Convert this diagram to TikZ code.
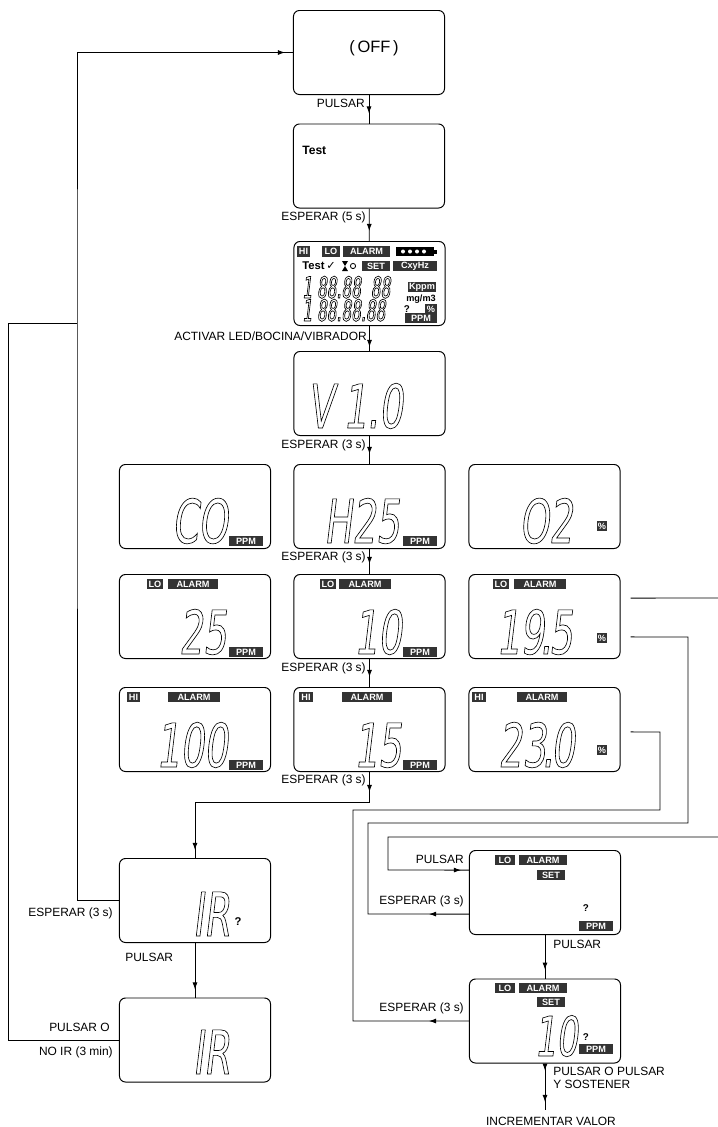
\documentclass[tikz,border=0pt]{standalone}
\usepackage{fontspec}
\setmainfont{Liberation Sans}
\newfontfamily\segfont[FakeSlant=0.12,FakeStretch=0.62]{DejaVu Sans}
\newfontfamily\segsmall[FakeSlant=0.12,FakeStretch=0.52]{DejaVu Sans}
\newfontfamily\symfont{DejaVu Sans}
% outlined digits, as on the LCD
\newcommand{\lcdseg}[1]{\special{pdf:literal 1 Tr 0.45 w}#1\special{pdf:literal 0 Tr}}
\usetikzlibrary{arrows.meta,decorations.markings,calc}

\begin{document}
\begin{tikzpicture}[x=0.025cm,y=-0.025cm,
    lcd/.style={draw,line width=0.7pt,rounded corners=0.15cm,minimum width=3.775cm,minimum height=2.1cm},
    lbl/.style={inner sep=0pt,font=\fontsize{8.5}{9.2}\selectfont},
    big/.style={inner sep=0pt,font=\segfont\fontsize{43}{43}\selectfont},
    tag/.style={fill=black!80,text=white,inner sep=0pt,minimum height=0.27cm,font=\bfseries\fontsize{6.5}{7}\selectfont},
    link/.style={line width=0.6pt},
    arr/.style={postaction={decorate,decoration={markings,mark=at position #1 with {\arrow{Latex[length=5pt,width=3.5pt]}}}}}]
    \useasboundingbox (0,0) rectangle (718,1127);

    % displays of the main column
    \node[lcd] (off) at (369,52.5) {};
    \node[font=\fontsize{11.7}{12}\selectfont] (offtxt) at (374,48) {(\,OFF\,)};
    \node[lcd] (test) at (369,166) {};
    \node[anchor=west,inner sep=0pt,font=\bfseries\fontsize{8.6}{9}\selectfont] (testtxt) at (302,150) {Test};

    % every segment lit
    \node[lcd] (all) at (369.5,283.5) {};
    \node[tag,minimum width=0.33cm] (allhi) at (303.5,251.5) {HI};
    \node[tag,minimum width=0.45cm] (alllo) at (331,251.5) {LO};
    \node[tag,minimum width=1.17cm] (allalarm) at (366.5,251.5) {ALARM};
    \fill (396,247) rectangle (434,256);
    \fill (434,249.5) rectangle (437,253.5);
    \foreach \x in {403,410,417,424} \fill[white] (\x,251.5) circle (0.05cm);
    \node[anchor=west,inner sep=0pt,font=\bfseries\fontsize{8}{9}\selectfont] (alltest) at (302,266) {Test\,{\symfont\mdseries ✓}};
    \fill (342,261) -- (348,261) -- (345,266) -- cycle;
    \fill (345,266) -- (348,271) -- (342,271) -- cycle;
    \draw[line width=0.6pt] (353,266) circle (0.065cm);
    \node[tag,minimum width=0.7cm] (allset) at (376,266) {SET};
    \node[tag,minimum width=1.1cm] (allhz) at (415,266) {CxyHz};
    \node[tag,minimum width=0.72cm] (allkppm) at (422,287) {Kppm};
    \node[inner sep=0pt,font=\bfseries\fontsize{6.5}{7}\selectfont] (allmg) at (421,299) {mg/m3};
    \node[inner sep=0pt,font=\bfseries\fontsize{7}{7}\selectfont] (allq) at (407,309) {?};
    \node[tag,minimum width=0.3cm] (allpct) at (431,309) {\%};
    \node[tag,minimum width=0.8cm] (allppm) at (421,318) {PPM};
    \node[anchor=base west,inner sep=0pt,font=\segsmall\fontsize{21}{21}\selectfont] (rowa) at (302,298) {\lcdseg{1\,88.88\hspace{7pt}88}};
    \node[anchor=base west,inner sep=0pt,font=\segsmall\fontsize{21}{21}\selectfont] (rowb) at (302,321) {\lcdseg{1\,88.88.88}};

    \node[lcd] (ver) at (369.5,393.5) {};
    \node[big,anchor=base east] (vertxt) at (403,428) {\lcdseg{V\kern7pt1.0}};

    % sensors: name, low alarm, high alarm
    \node[lcd] (co) at (195,506.5) {};
    \node[lcd] (hs) at (369.5,506.5) {};
    \node[lcd] (ox) at (544.5,506.5) {};
    \node[lcd] (colo) at (195,616.5) {};
    \node[lcd] (hslo) at (369.5,616.5) {};
    \node[lcd] (oxlo) at (544.5,616.5) {};
    \node[lcd] (cohi) at (195,729.5) {};
    \node[lcd] (hshi) at (369.5,729.5) {};
    \node[lcd] (oxhi) at (544.5,729.5) {};

    \node[big,anchor=base east] (cotxt) at (228,543) {\lcdseg{CO}};
    \node[big,anchor=base east] (hstxt) at (400,543) {\lcdseg{H25}};
    \node[big,anchor=base east] (oxtxt) at (573,543) {\lcdseg{O2}};
    \node[big,anchor=base east] (colotxt) at (227,654) {\lcdseg{25}};
    \node[big,anchor=base east] (hslotxt) at (402,654) {\lcdseg{10}};
    \node[big,anchor=base east] (oxlotxt) at (573,654) {\lcdseg{19\kern-3pt.\kern-2pt5}};
    \node[big,anchor=base east] (cohitxt) at (228,767) {\lcdseg{100}};
    \node[big,anchor=base east] (hshitxt) at (402,767) {\lcdseg{15}};
    \node[big,anchor=base east] (oxhitxt) at (575,767) {\lcdseg{23\kern-3pt.\kern-2pt0}};

    \node[tag,minimum width=0.85cm] (coppm) at (246,541) {PPM};
    \node[tag,minimum width=0.85cm] (hsppm) at (420,541) {PPM};
    \node[tag,minimum width=0.27cm] (oxpct) at (602,526) {\%};
    \node[tag,minimum width=0.85cm] (coloppm) at (246,652) {PPM};
    \node[tag,minimum width=0.85cm] (hsloppm) at (420,652) {PPM};
    \node[tag,minimum width=0.27cm] (oxlopct) at (602,638) {\%};
    \node[tag,minimum width=0.85cm] (cohippm) at (246,765) {PPM};
    \node[tag,minimum width=0.85cm] (hshippm) at (420,765) {PPM};
    \node[tag,minimum width=0.27cm] (oxhipct) at (602,750) {\%};

    \node[tag,minimum width=0.4cm] (colol) at (155,584) {LO};
    \node[tag,minimum width=1.25cm] (coloa) at (193,584) {ALARM};
    \node[tag,minimum width=0.4cm] (hslol) at (328,584) {LO};
    \node[tag,minimum width=1.3cm] (hsloa) at (365,584) {ALARM};
    \node[tag,minimum width=0.4cm] (oxlol) at (501,584) {LO};
    \node[tag,minimum width=1.3cm] (oxloa) at (540,584) {ALARM};
    \node[tag,minimum width=0.33cm] (cohih) at (133.5,697) {HI};
    \node[tag,minimum width=1.3cm] (cohia) at (194,697) {ALARM};
    \node[tag,minimum width=0.33cm] (hshih) at (306,697) {HI};
    \node[tag,minimum width=1.25cm] (hshia) at (367,697) {ALARM};
    \node[tag,minimum width=0.33cm] (oxhih) at (479,697) {HI};
    \node[tag,minimum width=1.25cm] (oxhia) at (542,697) {ALARM};

    % IR menu
    \node[lcd] (irq) at (195,900.5) {};
    \node[big,anchor=base east] (irqtxt) at (230,936) {\lcdseg{IR}};
    \node[inner sep=0pt,font=\bfseries\fontsize{8}{8}\selectfont] (irqmark) at (238,922) {?};
    \node[lcd] (ir) at (195,1040) {};
    \node[big,anchor=base east] (irtxt) at (230,1074) {\lcdseg{IR}};

    % setting the low alarm
    \node[lcd] (set1) at (545,892.5) {};
    \node[tag,minimum width=0.5cm] (set1lo) at (505,860) {LO};
    \node[tag,minimum width=1.22cm] (set1a) at (543,860) {ALARM};
    \node[tag,minimum width=0.7cm] (set1s) at (551,875) {SET};
    \node[inner sep=0pt,font=\bfseries\fontsize{7}{7}\selectfont] (set1q) at (586,908) {?};
    \node[tag,minimum width=0.85cm] (set1ppm) at (596,926) {PPM};
    \node[lcd] (set2) at (545,1021) {};
    \node[tag,minimum width=0.5cm] (set2lo) at (505,988) {LO};
    \node[tag,minimum width=1.22cm] (set2a) at (543,988) {ALARM};
    \node[tag,minimum width=0.7cm] (set2s) at (551,1002) {SET};
    \node[big,anchor=base east,font=\segfont\fontsize{39}{39}\selectfont] (set2txt) at (578,1056) {\lcdseg{10}};
    \node[inner sep=0pt,font=\bfseries\fontsize{7}{7}\selectfont] (set2q) at (586,1037) {?};
    \node[tag,minimum width=0.85cm] (set2ppm) at (596,1049) {PPM};

    % labels
    \node[lbl,anchor=east] (lpul1) at (365,103) {PULSAR};
    \node[lbl,anchor=east] (lesp5) at (366,217) {ESPERAR (5 s)};
    \node[lbl,anchor=east] (lact) at (367,336) {ACTIVAR LED/BOCINA/VIBRADOR};
    \node[lbl,anchor=east] (lesp1) at (366,445) {ESPERAR (3 s)};
    \node[lbl,anchor=east] (lesp2) at (366,557) {ESPERAR (3 s)};
    \node[lbl,anchor=east] (lesp3) at (366,668) {ESPERAR (3 s)};
    \node[lbl,anchor=east] (lesp4) at (366,780) {ESPERAR (3 s)};
    \node[lbl,anchor=east] (lesp5b) at (113,913) {ESPERAR (3 s)};
    \node[lbl,anchor=west] (lpul2) at (125,957) {PULSAR};
    \node[lbl,anchor=east] (lpulo) at (110,1027) {PULSAR O};
    \node[lbl,anchor=east] (lnoir) at (113,1052) {NO IR (3 min)};
    \node[lbl,anchor=east] (lpul3) at (464,859) {PULSAR};
    \node[lbl,anchor=east] (lesp6) at (464,901) {ESPERAR (3 s)};
    \node[lbl,anchor=west] (lpul4) at (553,944) {PULSAR};
    \node[lbl,anchor=east] (lesp7) at (464,1008) {ESPERAR (3 s)};
    \node[lbl,anchor=west,align=left] (lhold) at (553,1078) {PULSAR O PULSAR\\Y SOSTENER};
    \node[lbl] (lincr) at (551,1121) {INCREMENTAR VALOR};

    % connectors
    \coordinate (jA) at (77,323);
    \coordinate (jB) at (8,323);
    \coordinate (down) at (369.5,802);
    \coordinate (incr) at (545,1110);
    \coordinate (edgeA) at (718,598);
    \coordinate (edgeB) at (718,837);

    \draw[link,arr=-0.25cm] (off) -- (test);
    \draw[link,arr=-0.25cm] (test) -- (all);
    \draw[link,arr=-0.1cm] (all) -- (ver);
    \draw[link,arr=-0.25cm] (ver) -- (hs);
    \draw[link,arr=-0.25cm] (hs) -- (hslo);
    \draw[link,arr=-0.25cm] (hslo) -- (hshi);
    \draw[link,arr=0.5cm,arr=-0.2cm] (hshi) -- (down) -| (irq);
    \draw[link,arr=-0.2cm] (irq) -- (ir);
    \draw[link,arr=-0.2cm] (irq.west) -| (jA) |- (off.west);
    \draw[link] (ir.west) -| (jB) -- (jA);

    \draw[link] ([xshift=0.25cm,yshift=0.46cm]oxlo.east) -- (edgeA);
    \draw[link,arr=1cm] ([yshift=-0.54cm]set1.west) -- (368,914) -- (368,823) -- (688,823) -- (688,637)
        -- ([xshift=0.25cm,yshift=-0.51cm]oxlo.east);
    \draw[link,arr=1cm] (set2.west) -- (353,1021) -- (353,810) -- (660,810) -- (660,732)
        -- ([xshift=0.25cm,yshift=-0.06cm]oxhi.east);
    \draw[link,arr=-0.2cm] (edgeB) -- (388,837) -- (388,870) -- ([yshift=0.56cm]set1.west);
    \draw[link,arr=-0.22cm] (set1) -- (set2);
    \draw[link,arr=0.18cm,arr=-0.2cm] (set2) -- (incr);
\end{tikzpicture}
\end{document}
